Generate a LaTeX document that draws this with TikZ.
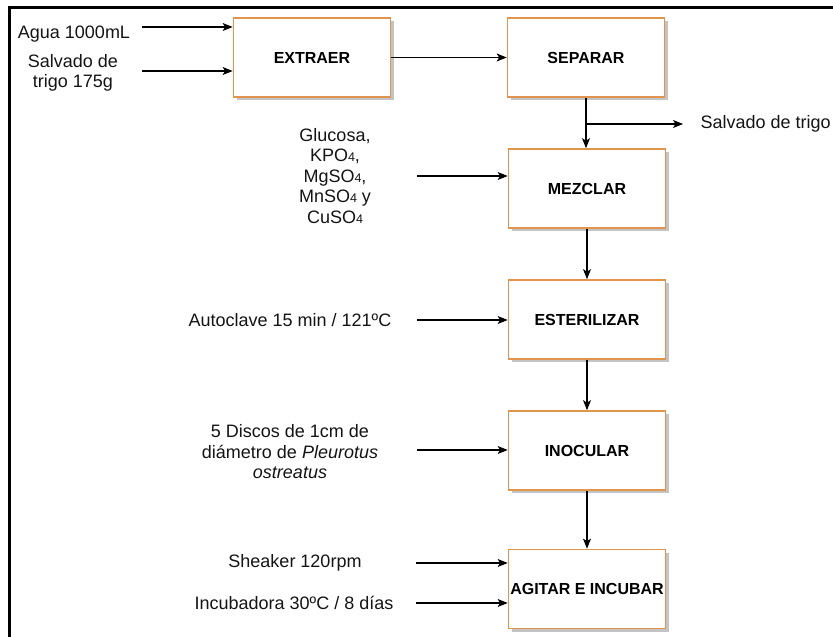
\documentclass[tikz,border=0pt]{standalone}
\usepackage{fontspec}
\setmainfont{Liberation Sans}
\usetikzlibrary{arrows.meta,shadows}
\definecolor{boxorange}{HTML}{E0944E}
\definecolor{boxshadow}{HTML}{C4C4C4}
\definecolor{inktext}{HTML}{141414}
\newcommand{\chemsub}[1]{{\fontsize{12.5}{12.5}\selectfont #1}}

\begin{document}
\begin{tikzpicture}[x=1pt, y=-1pt, line width=1.1pt,
  stepbox/.style={draw=boxorange, line width=1.7pt, fill=white,
    minimum width=157pt, minimum height=79pt, inner xsep=0pt,
    font=\fontsize{16}{18}\selectfont\bfseries,
    drop shadow={shadow xshift=3pt, shadow yshift=-3pt, fill=boxshadow, opacity=1}},
  inlabel/.style={font=\fontsize{18}{20.5}\selectfont, text=inktext, align=center, inner sep=0pt},
  flow/.style={-{Stealth[length=10pt, width=8pt, inset=2.5pt]}}]

  \useasboundingbox (0,0) rectangle (833,637);

  % -- the frame round the sheet: only the left and the top show -----------
  \draw[line width=3pt] (9,637) -- (9,7) -- (833,7);

  % -- the six steps, one under the other after SEPARAR ---------------------
  \node[stepbox] (extraer)    at (312,57.5)  {EXTRAER};
  \node[stepbox] (separar)    at (586,57.5)  {SEPARAR};
  \node[stepbox] (mezclar)    at (587,188.5) {MEZCLAR};
  \node[stepbox] (esterilizar) at (587,319.5) {ESTERILIZAR};
  \node[stepbox] (inocular)   at (587,450.5) {INOCULAR};
  \node[stepbox] (agitar)     at (587,589)   {AGITAR E INCUBAR};

  % -- what goes in on the left ---------------------------------------------
  \node[inlabel] (agua)     at (74,34)   {Agua 1000mL};
  \node[inlabel] (salvado)  at (73,73)   {Salvado de\\trigo 175g};
  \node[inlabel] (sales)    at (335,176) {Glucosa,\\KPO\chemsub{4},\\MgSO\chemsub{4},\\MnSO\chemsub{4} y\\CuSO\chemsub{4}};
  \node[inlabel] (autoclave) at (290,320) {Autoclave 15 min / 121ºC};
  \node[inlabel] (discos)   at (290,452) {5 Discos de 1cm de\\diámetro de \textit{Pleurotus}\\\textit{ostreatus}};
  \node[inlabel] (sheaker)  at (295,563) {Sheaker 120rpm};
  \node[inlabel] (incuba)   at (294,603) {Incubadora 30ºC / 8 días};

  \coordinate (tAgua)      at (142,27);
  \coordinate (tSalvado)   at (142,71);
  \coordinate (tSales)     at (417,176);
  \coordinate (tAutoclave) at (417,320);
  \coordinate (tDiscos)    at (417,450);
  \coordinate (tSheaker)   at (416,563);
  \coordinate (tIncuba)    at (416,603);

  \draw[flow] (tAgua)      -- (tAgua -| extraer.west);
  \draw[flow] (tSalvado)   -- (tSalvado -| extraer.west);
  \draw[flow] (tSales)     -- (tSales -| mezclar.west);
  \draw[flow] (tAutoclave) -- (tAutoclave -| esterilizar.west);
  \draw[flow] (tDiscos)    -- (tDiscos -| inocular.west);
  \draw[flow] (tSheaker)   -- (tSheaker -| agitar.west);
  \draw[flow] (tIncuba)    -- (tIncuba -| agitar.west);

  % -- the main line, and the bran that leaves after SEPARAR ----------------
  \draw[flow] (extraer.east) -- (separar.west);
  \draw[flow] (separar.south) -- (separar.south |- mezclar.north);
  \coordinate (branch) at (587,124);
  \node[inlabel, anchor=west] (residuo) at (700,124) {Salvado de trigo};
  \draw[flow] (branch) -- ([xshift=-17pt]residuo.west);
  \draw[flow] (mezclar) -- (esterilizar);
  \draw[flow] (esterilizar) -- (inocular);
  \draw[flow] (inocular) -- (agitar);

\end{tikzpicture}
\end{document}
